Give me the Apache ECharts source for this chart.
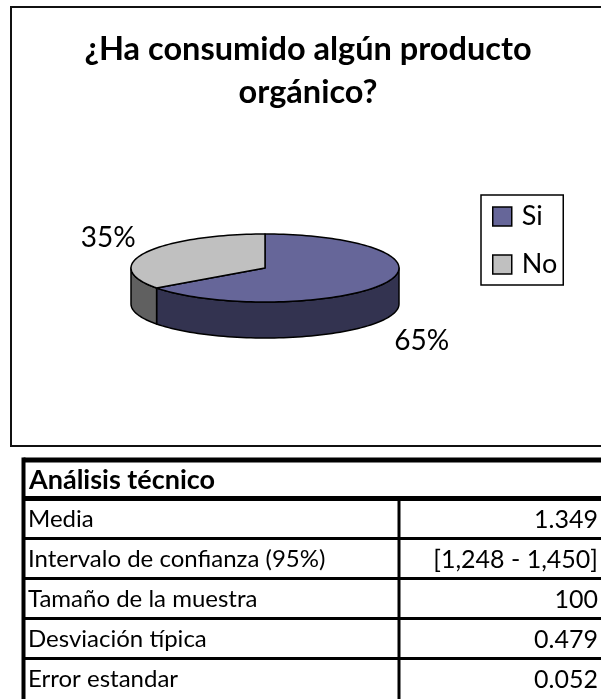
<!DOCTYPE html>
<html><head><meta charset="utf-8">
<script src="https://cdn.jsdelivr.net/npm/echarts@6/dist/echarts.min.js"></script>
<style>html,body{margin:0;padding:0;background:#fff}#c{width:601px;height:699px}</style>
</head><body><div id="c"></div>
<script>
const chartTitle = '¿Ha consumido algún producto\norgánico?';
const categories = ['Si', 'No'];
const shares = [65, 35];
const percentLabels = ['65%', '35%'];
const tableHeader = 'Análisis técnico';
const tableLabels = ['Media', 'Intervalo de confianza (95%)', 'Tamaño de la muestra', 'Desviación típica', 'Error estandar'];
const tableValues = ['1.349', '[1,248 - 1,450]', '100', '0.479', '0.052'];

const topColors = ['#666699', '#C0C0C0'];
const sideColors = ['#333350', '#606060'];
const FONT = 'Lato';

const total = shares.reduce((a, b) => a + b, 0);
const cum = [];
shares.reduce((acc, v, i) => { cum[i] = acc; return acc + v; }, 0);

const P = { cx: 265, cy: 268, rx: 134, ry: 34, depth: 36 };

function pt(aDeg, dy) {
  const a = aDeg * Math.PI / 180;
  return [P.cx + P.rx * Math.cos(a), P.cy - P.ry * Math.sin(a) + (dy || 0)];
}
function arc(from, to, dy) {
  const pts = [];
  const n = Math.max(2, Math.ceil(Math.abs(to - from) / 2));
  for (let i = 0; i <= n; i++) pts.push(pt(from + (to - from) * i / n, dy));
  return pts;
}

function makeRender(idx) {
  return function (params, api) {
    const v = api.value(0), s = api.value(1);
    const a0 = 90 - s / total * 360;
    const a1 = 90 - (s + v) / total * 360;
    const children = [];
    const style = { stroke: '#000', lineWidth: 1.5, lineJoin: 'round' };
    for (let k = -1; k <= 1; k++) {
      const lo = -180 + 360 * k, hi = 0 + 360 * k;
      const b0 = Math.min(a0, hi), b1 = Math.max(a1, lo);
      if (b0 > b1) {
        const top = arc(b0, b1, 0);
        const bot = arc(b1, b0, P.depth);
        children.push({ type: 'polygon', shape: { points: top.concat(bot) },
          style: Object.assign({ fill: sideColors[idx] }, style) });
      }
    }
    const face = [[P.cx, P.cy]].concat(arc(a0, a1, 0));
    children.push({ type: 'polygon', shape: { points: face },
      style: Object.assign({ fill: topColors[idx] }, style) });
    const mid = (a0 + a1) / 2 * Math.PI / 180;
    const c = Math.cos(mid), sn = Math.sin(mid);
    const lx = P.cx + (P.rx + 42) * c;
    const ly = P.cy - (P.ry + 32) * sn + (sn < 0 ? P.depth + 7 : 0);
    children.push({ type: 'text', style: { x: lx, y: ly, text: percentLabels[idx],
      fill: '#000', font: '28px ' + FONT, align: 'center', verticalAlign: 'middle' } });
    return { type: 'group', children };
  };
}

const series = categories.map((name, i) => ({
  type: 'custom', name, coordinateSystem: 'none',
  itemStyle: { color: topColors[i] },
  renderItem: makeRender(i),
  data: [[shares[i], cum[i]]]
}));

const TL = 23.5, TR = 640, VX = 399, HTOP = 460, HBOT = 498.5;
const rowH = 40;
const g = [];
g.push({ type: 'rect', shape: { x: 11, y: 7, width: 640, height: 439 },
  style: { fill: 'none', stroke: '#111', lineWidth: 2 }, z: 0 });
g.push({ type: 'text', style: { x: 29, y: 480, text: tableHeader, font: 'bold 27px ' + FONT,
  fill: '#000', verticalAlign: 'middle' } });
tableLabels.forEach((lab, i) => {
  const yc = HBOT + rowH * i + rowH / 2 + 1;
  g.push({ type: 'text', style: { x: 28, y: yc, text: lab, font: '24px ' + FONT, fill: '#000', verticalAlign: 'middle' } });
  g.push({ type: 'text', style: { x: 598, y: yc, text: tableValues[i], font: '25px ' + FONT, fill: '#000', align: 'right', verticalAlign: 'middle' } });
  if (i > 0) {
    const y = HBOT + rowH * i;
    g.push({ type: 'line', shape: { x1: TL, y1: y, x2: TR, y2: y }, style: { stroke: '#000', lineWidth: 3 } });
  }
});
g.push({ type: 'line', shape: { x1: TL, y1: HTOP, x2: TR, y2: HTOP }, style: { stroke: '#000', lineWidth: 5 } });
g.push({ type: 'line', shape: { x1: TL, y1: HBOT, x2: TR, y2: HBOT }, style: { stroke: '#000', lineWidth: 5 } });
g.push({ type: 'line', shape: { x1: TL, y1: HTOP - 2.5, x2: TL, y2: 720 }, style: { stroke: '#000', lineWidth: 4 } });
g.push({ type: 'line', shape: { x1: VX, y1: HBOT, x2: VX, y2: 720 }, style: { stroke: '#000', lineWidth: 3 } });

const chart = echarts.init(document.getElementById('c'), null, { renderer: 'canvas' });
chart.setOption({
  animation: false,
  backgroundColor: '#fff',
  title: { text: chartTitle, left: 303, top: 23, textAlign: 'center',
    textStyle: { fontFamily: FONT, fontWeight: 'bold', fontSize: 32.5, lineHeight: 43, color: '#000' } },
  legend: { orient: 'vertical', left: 481, top: 195, data: categories,
    icon: 'rect', itemWidth: 19, itemHeight: 19, itemGap: 21,
    padding: [8, 6, 7, 11], borderColor: '#000', borderWidth: 1.5,
    itemStyle: { borderColor: '#000', borderWidth: 1.5 },
    textStyle: { fontFamily: FONT, fontSize: 27, color: '#000', padding: [0, 0, 0, 5] } },
  graphic: g,
  series
});
</script></body></html>
